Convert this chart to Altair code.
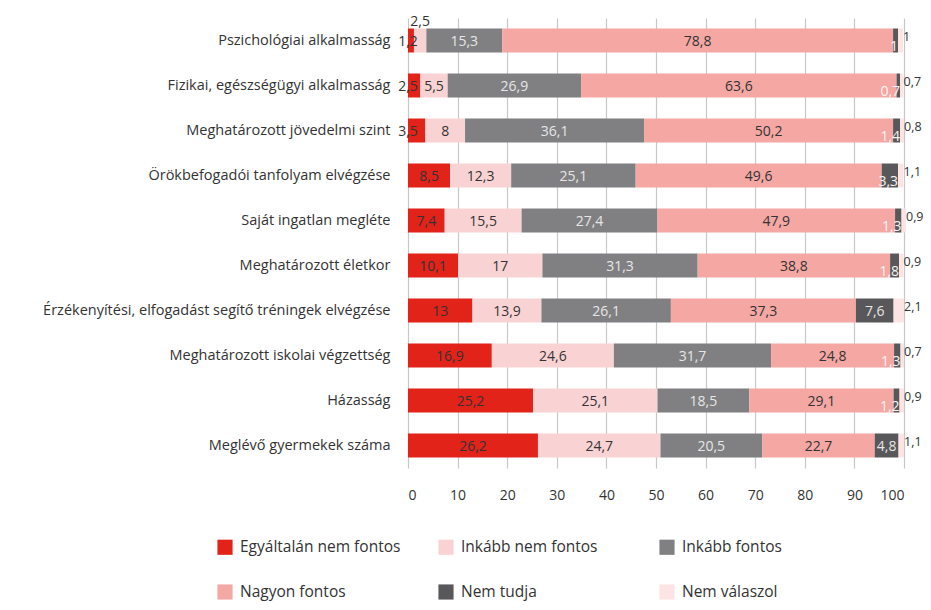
import altair as alt
import pandas as pd

items = [
    "Pszichológiai alkalmasság",
    "Fizikai, egészségügyi alkalmasság",
    "Meghatározott jövedelmi szint",
    "Örökbefogadói tanfolyam elvégzése",
    "Saját ingatlan megléte",
    "Meghatározott életkor",
    "Érzékenyítési, elfogadást segítő tréningek elvégzése",
    "Meghatározott iskolai végzettség",
    "Házasság",
    "Meglévő gyermekek száma",
]
cats = ["Egyáltalán nem fontos", "Inkább nem fontos", "Inkább fontos",
        "Nagyon fontos", "Nem tudja", "Nem válaszol"]
colors = ["#e2231a", "#f9d3d3", "#808083", "#f4a7a3", "#58585a", "#fce4e4"]

v_egy = [1.2, 2.5, 3.5, 8.5, 7.4, 10.1, 13, 16.9, 25.2, 26.2]
v_inem = [2.5, 5.5, 8, 12.3, 15.5, 17, 13.9, 24.6, 25.1, 24.7]
v_ifon = [15.3, 26.9, 36.1, 25.1, 27.4, 31.3, 26.1, 31.7, 18.5, 20.5]
v_nagy = [78.8, 63.6, 50.2, 49.6, 47.9, 38.8, 37.3, 24.8, 29.1, 22.7]
v_ntud = [1, 0.7, 1.4, 3.3, 1.3, 1.8, 7.6, 1.3, 1.2, 4.8]
v_nval = [1, 0.7, 0.8, 1.1, 0.9, 0.9, 2.1, 0.7, 0.9, 1.1]

series = [v_egy, v_inem, v_ifon, v_nagy, v_ntud, v_nval]

rows = []
for i, item in enumerate(items):
    start = 0.0
    for ci, cat in enumerate(cats):
        v = series[ci][i]
        end = start + v
        lab = ("%g" % v).replace(".", ",")
        if ci == 0:
            kind = "dark" if v >= 5 else "base"
        elif ci == 1:
            kind = "dark" if v >= 3 else "above"
        elif ci == 2:
            kind = "light"
        elif ci == 3:
            kind = "dark"
        elif ci == 4:
            kind = "light" if v >= 4 else "endlow"
        else:
            kind = "after"
        rows.append(dict(item=item, cat=cat, ci=ci, v=v, x0=start, x1=end,
                         mid=(start + end) / 2, lab=lab, kind=kind))
        start = end
df = pd.DataFrame(rows)

FONT = "Open Sans"

base = alt.Chart(df).encode(
    y=alt.Y("item:N", sort=items, title=None,
            axis=alt.Axis(domain=False, ticks=False, labelPadding=18,
                          labelFontSize=14.5, labelColor="#333333", labelFont=FONT,
                          labelLimit=400)),
)

bars = base.mark_bar(size=24).encode(
    x=alt.X("x0:Q", scale=alt.Scale(domain=[0, 100], nice=False), title=None,
            axis=alt.Axis(values=list(range(0, 101, 10)), domain=False, ticks=False,
                          tickSize=0, labelPadding=20, labelFontSize=14,
                          labelColor="#333333", labelFont=FONT,
                          gridColor="#c8c8c8", gridWidth=1.2)),
    x2="x1:Q",
    color=alt.Color("cat:N", sort=cats,
                    scale=alt.Scale(domain=cats, range=colors),
                    legend=alt.Legend(title=None, orient="none", legendX=-191,
                                      legendY=521, columns=3, direction="horizontal",
                                      symbolType="square", symbolSize=230,
                                      symbolStrokeWidth=0, labelFontSize=15.5,
                                      labelFont=FONT, labelColor="#333333",
                                      labelOffset=7, rowPadding=28,
                                      columnPadding=37, gridAlign="all",
                                      labelLimit=300)),
    order=alt.Order("ci:Q"),
)

def txt(kind, color, x, size=14, **kw):
    return base.transform_filter(alt.datum.kind == kind).mark_text(
        font=FONT, fontSize=size, color=color, **kw
    ).encode(x=alt.X(x + ":Q"), text="lab:N")

t_dark = txt("dark", "#333333", "mid", align="center", baseline="middle", dy=1)
t_light = txt("light", "#e6e6e6", "mid", align="center", baseline="middle", dy=1)
t_base = txt("base", "#333333", "x0", align="center", baseline="middle", dy=1)
t_above = txt("above", "#333333", "mid", align="center", baseline="middle", dy=-19)
t_endlow = txt("endlow", "#f4f4f4", "x1", align="right", baseline="middle", dy=6)
t_after = txt("after", "#333333", "x1", size=12.5, align="left", baseline="middle", dx=0, dy=-4)

chart = alt.layer(bars, t_dark, t_light, t_base, t_above, t_endlow, t_after).properties(
    width=496, height=450,
    autosize=alt.AutoSizeParams(type="none"),
    padding={"left": 400, "top": 10, "right": 19, "bottom": 134},
).configure_view(stroke=None).configure_scale(bandPaddingInner=0.47)

chart.save("out.html", embed_options={"renderer": "svg", "actions": False})
